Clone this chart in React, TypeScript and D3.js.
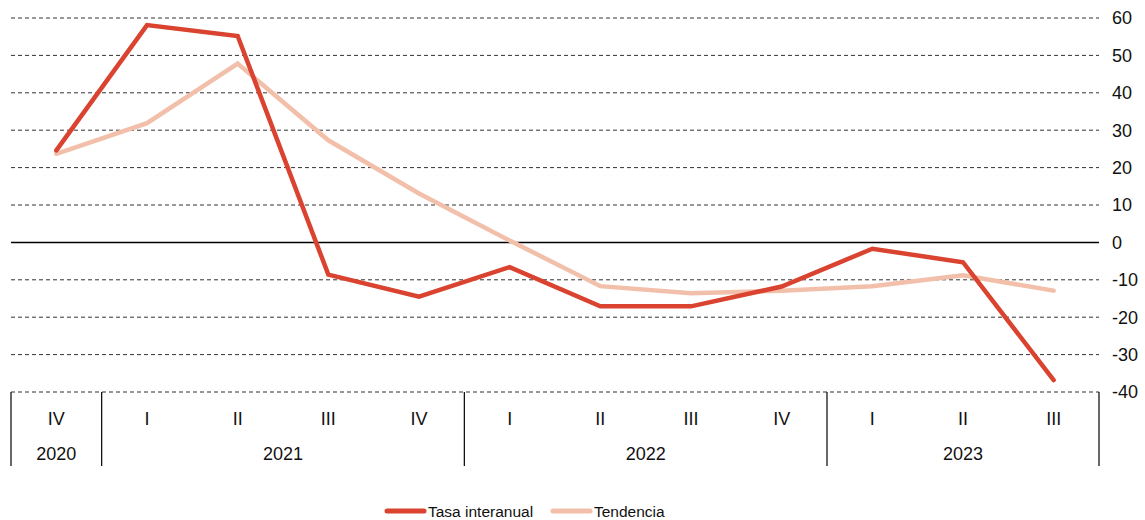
import { useEffect, useRef } from 'react'
import * as d3 from 'd3'

const quarters = ['IV', 'I', 'II', 'III', 'IV', 'I', 'II', 'III', 'IV', 'I', 'II', 'III']
const years = ['2020', '2021', '2021', '2021', '2021', '2022', '2022', '2022', '2022', '2023', '2023', '2023']
const tasaInteranual = [24.6, 58.1, 55.2, -8.6, -14.5, -6.6, -17.1, -17.1, -11.8, -1.7, -5.3, -36.8]
const tendencia = [23.7, 31.9, 47.8, 27.3, 13.1, 0.5, -11.7, -13.6, -12.9, -11.7, -8.8, -12.9]
const yTicks = [60, 50, 40, 30, 20, 10, 0, -10, -20, -30, -40]

const RED = '#d9432f'
const PINK = '#f2c0aa'
const FONT = 'Liberation Sans, Arial, sans-serif'

export default function App() {
  const ref = useRef<SVGSVGElement | null>(null)

  useEffect(() => {
    const svgEl = ref.current
    if (!svgEl) return
    const width = 1145
    const height = 520
    const svg = d3.select(svgEl)
    svg.selectAll('*').remove()

    const idx = quarters.map((_, i) => i)
    const x = d3.scaleBand<number>().domain(idx).range([11, 1099]).padding(0)
    const y = d3.scaleLinear().domain([-40, 60]).range([392, 18])
    const cx = (i: number) => (x(i) as number) + x.bandwidth() / 2

    // grid
    const grid = svg.append('g')
    yTicks.forEach((t) => {
      grid
        .append('line')
        .attr('x1', 11)
        .attr('x2', 1099)
        .attr('y1', y(t))
        .attr('y2', y(t))
        .attr('stroke', t === 0 ? '#000' : '#333')
        .attr('stroke-width', t === 0 ? 1.5 : 1)
        .attr('stroke-dasharray', t === 0 ? null : '4,3')
      grid
        .append('text')
        .attr('x', 1112)
        .attr('y', y(t))
        .attr('dy', '0.35em')
        .attr('font-family', FONT)
        .attr('font-size', 18)
        .attr('fill', '#111')
        .text(t)
    })

    // category axis
    const axis = svg.append('g')
    quarters.forEach((q, i) => {
      axis
        .append('text')
        .attr('x', cx(i))
        .attr('y', 424.5)
        .attr('text-anchor', 'middle')
        .attr('font-family', FONT)
        .attr('font-size', 18)
        .attr('fill', '#111')
        .text(q)
    })
    const groups = d3.groups(idx, (i) => years[i])
    const bounds = [x(0) as number]
    groups.forEach(([yr, items]) => {
      const start = x(items[0]) as number
      const end = (x(items[items.length - 1]) as number) + x.bandwidth()
      bounds.push(end)
      axis
        .append('text')
        .attr('x', (start + end) / 2)
        .attr('y', 459.5)
        .attr('text-anchor', 'middle')
        .attr('font-family', FONT)
        .attr('font-size', 18)
        .attr('fill', '#111')
        .text(yr)
    })
    bounds.forEach((b) => {
      axis
        .append('line')
        .attr('x1', b)
        .attr('x2', b)
        .attr('y1', 392)
        .attr('y2', 466)
        .attr('stroke', '#000')
        .attr('stroke-width', 1.2)
    })

    // lines
    const line = d3
      .line<number>()
      .x((_, i) => cx(i))
      .y((d) => y(d))
    svg
      .append('path')
      .attr('d', line(tendencia))
      .attr('fill', 'none')
      .attr('stroke', PINK)
      .attr('stroke-width', 4.5)
      .attr('stroke-linejoin', 'miter')
      .attr('stroke-linecap', 'round')
    svg
      .append('path')
      .attr('d', line(tasaInteranual))
      .attr('fill', 'none')
      .attr('stroke', RED)
      .attr('stroke-width', 4.5)
      .attr('stroke-linejoin', 'miter')
      .attr('stroke-linecap', 'round')

    // legend
    const legend = svg.append('g')
    const items = [
      { label: 'Tasa interanual', color: RED, x0: 387 },
      { label: 'Tendencia', color: PINK, x0: 553 },
    ]
    items.forEach((it) => {
      legend
        .append('line')
        .attr('x1', it.x0)
        .attr('x2', it.x0 + 37)
        .attr('y1', 511)
        .attr('y2', 511)
        .attr('stroke', it.color)
        .attr('stroke-width', 5)
        .attr('stroke-linecap', 'round')
      legend
        .append('text')
        .attr('x', it.x0 + 41)
        .attr('y', 517)
        .attr('font-family', FONT)
        .attr('font-size', 15.5)
        .attr('fill', '#111')
        .text(it.label)
    })

    svg.attr('width', width).attr('height', height)
  }, [])

  return (
    <svg
      ref={ref}
      width={1145}
      height={520}
      style={{ position: 'absolute', left: 0, top: 0, background: '#fff' }}
    />
  )
}
